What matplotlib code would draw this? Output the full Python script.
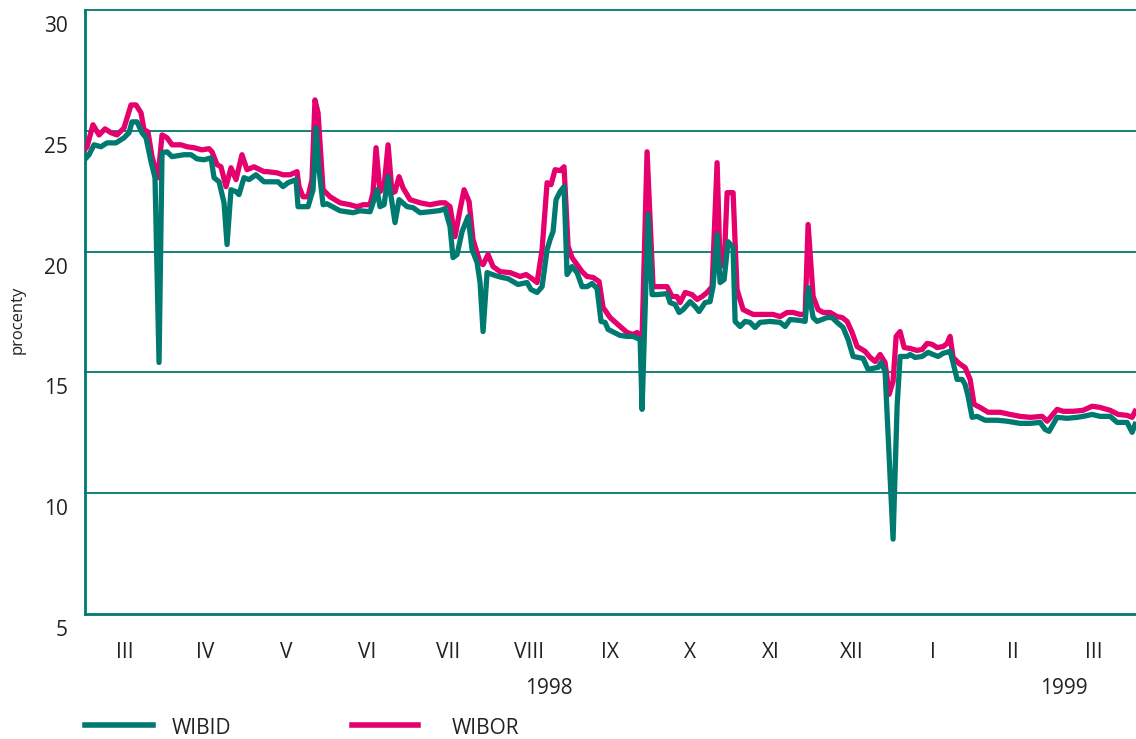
import matplotlib
matplotlib.use('Agg')
import matplotlib.pyplot as plt
import matplotlib.lines as mlines
from matplotlib.transforms import ScaledTranslation, blended_transform_factory

plt.rcParams['font.family'] = ['Open Sans', 'DejaVu Sans']

TEAL = '#007A70'
MAGENTA = '#E5006E'

# x = months since 1 March 1998 (0 = start of March 1998)
wibor_x = [0.0, 0.031, 0.105, 0.180, 0.254, 0.328, 0.402, 0.489, 0.576, 0.638,
           0.700, 0.737, 0.786, 0.836, 0.910, 0.960, 1.022, 1.084, 1.195, 1.269,
           1.356, 1.455, 1.542, 1.579, 1.641, 1.690, 1.752, 1.814, 1.876, 1.950,
           2.012, 2.099, 2.223, 2.260, 2.384, 2.458, 2.545, 2.632, 2.656, 2.706,
           2.768, 2.817, 2.854, 2.892, 2.954, 3.040, 3.164, 3.288, 3.375, 3.449,
           3.536, 3.573, 3.610, 3.659, 3.709, 3.759, 3.808, 3.845, 3.895, 3.944,
           4.031, 4.155, 4.279, 4.402, 4.464, 4.526, 4.588, 4.650, 4.700, 4.762,
           4.811, 4.898, 4.935, 4.997, 5.059, 5.146, 5.270, 5.393, 5.468, 5.542,
           5.604, 5.666, 5.728, 5.777, 5.827, 5.889, 5.938, 5.988, 6.037, 6.099,
           6.161, 6.223, 6.297, 6.372, 6.421, 6.508, 6.632, 6.719, 6.793, 6.842,
           6.904, 6.966, 7.040, 7.102, 7.214, 7.276, 7.337, 7.375, 7.437, 7.523,
           7.585, 7.647, 7.709, 7.771, 7.833, 7.870, 7.920, 7.957, 8.031, 8.080,
           8.155, 8.279, 8.402, 8.526, 8.613, 8.700, 8.774, 8.861, 8.923, 8.960,
           9.022, 9.084, 9.146, 9.232, 9.319, 9.381, 9.443, 9.505, 9.567, 9.666,
           9.728, 9.790, 9.852, 9.913, 9.963, 10.012, 10.050, 10.099, 10.149, 10.223,
           10.310, 10.372, 10.433, 10.495, 10.557, 10.632, 10.681, 10.718, 10.755, 10.830,
           10.904, 10.966, 11.015, 11.090, 11.189, 11.337, 11.461, 11.585, 11.709, 11.858,
           11.920, 12.043, 12.118, 12.241, 12.365, 12.477, 12.576, 12.700, 12.799, 12.910,
           12.972, 13.009]
wibor = [24.21, 24.34, 25.25, 24.83, 25.08, 24.92, 24.83, 25.12, 26.07, 26.07,
         25.74, 25.04, 24.96, 23.93, 23.06, 24.83, 24.71, 24.42, 24.42, 24.34,
         24.30, 24.21, 24.26, 24.13, 23.60, 23.51, 22.69, 23.47, 22.98, 24.01,
         23.39, 23.51, 23.31, 23.31, 23.26, 23.18, 23.18, 23.31, 22.69, 22.27,
         22.27, 22.98, 26.28, 25.74, 22.56, 22.27, 22.02, 21.94, 21.86, 21.94,
         21.94, 22.44, 24.30, 22.48, 22.69, 24.42, 22.44, 22.48, 23.10, 22.64,
         22.15, 22.02, 21.94, 22.02, 22.02, 21.86, 20.62, 21.74, 22.56, 22.07,
         20.50, 19.55, 19.46, 19.88, 19.38, 19.17, 19.13, 18.97, 19.05, 18.88,
         18.72, 20.08, 22.85, 22.77, 23.39, 23.35, 23.51, 20.21, 19.75, 19.46,
         19.17, 18.97, 18.93, 18.76, 17.69, 17.27, 16.90, 16.65, 16.57, 16.65,
         16.45, 24.13, 18.55, 18.55, 18.55, 18.14, 18.14, 17.89, 18.31, 18.22,
         18.02, 18.14, 18.31, 18.55, 23.68, 19.38, 19.46, 22.44, 22.44, 18.43,
         17.60, 17.40, 17.40, 17.40, 17.31, 17.48, 17.48, 17.40, 17.40, 21.12,
         18.14, 17.60, 17.48, 17.48, 17.31, 17.27, 17.11, 16.65, 16.07, 15.87,
         15.62, 15.45, 15.74, 15.41, 14.09, 14.63, 16.49, 16.69, 16.03, 15.99,
         15.91, 15.95, 16.20, 16.16, 16.03, 16.07, 16.20, 16.49, 15.62, 15.37,
         15.20, 14.71, 13.68, 13.55, 13.35, 13.35, 13.26, 13.18, 13.14, 13.18,
         12.98, 13.47, 13.39, 13.39, 13.43, 13.60, 13.55, 13.43, 13.26, 13.22,
         13.14, 13.39]

wibid_x = [0.0, 0.056, 0.118, 0.204, 0.279, 0.390, 0.489, 0.551, 0.588, 0.650,
           0.712, 0.762, 0.824, 0.873, 0.923, 0.960, 1.022, 1.084, 1.232, 1.319,
           1.393, 1.480, 1.567, 1.604, 1.666, 1.728, 1.765, 1.814, 1.876, 1.913,
           1.975, 2.037, 2.124, 2.223, 2.297, 2.396, 2.458, 2.520, 2.619, 2.644,
           2.768, 2.830, 2.867, 2.904, 2.954, 3.003, 3.164, 3.325, 3.412, 3.536,
           3.573, 3.622, 3.659, 3.709, 3.759, 3.808, 3.845, 3.895, 3.994, 4.068,
           4.155, 4.279, 4.402, 4.464, 4.526, 4.563, 4.613, 4.675, 4.750, 4.799,
           4.861, 4.898, 4.935, 4.985, 5.084, 5.170, 5.245, 5.368, 5.480, 5.529,
           5.604, 5.666, 5.728, 5.765, 5.802, 5.839, 5.889, 5.938, 5.975, 6.037,
           6.099, 6.161, 6.223, 6.285, 6.347, 6.396, 6.446, 6.483, 6.632, 6.719,
           6.793, 6.880, 6.904, 6.978, 7.028, 7.090, 7.214, 7.251, 7.313, 7.363,
           7.412, 7.499, 7.560, 7.610, 7.684, 7.746, 7.783, 7.833, 7.870, 7.920,
           7.969, 8.031, 8.056, 8.118, 8.180, 8.241, 8.303, 8.365, 8.489, 8.613,
           8.675, 8.737, 8.861, 8.923, 8.960, 9.022, 9.071, 9.195, 9.257, 9.319,
           9.393, 9.455, 9.517, 9.579, 9.641, 9.703, 9.765, 9.827, 9.864, 9.913,
           10.012, 10.062, 10.099, 10.186, 10.223, 10.285, 10.372, 10.446, 10.508, 10.570,
           10.632, 10.718, 10.755, 10.805, 10.867, 10.904, 10.941, 10.991, 11.053, 11.152,
           11.300, 11.424, 11.585, 11.709, 11.833, 11.895, 11.944, 12.043, 12.167, 12.291,
           12.365, 12.477, 12.576, 12.700, 12.787, 12.910, 12.972, 13.009]
wibid = [23.80, 24.01, 24.42, 24.34, 24.50, 24.50, 24.71, 24.92, 25.37, 25.37,
         24.92, 24.71, 23.72, 23.06, 15.41, 24.09, 24.13, 23.93, 24.01, 24.01,
         23.84, 23.80, 23.88, 23.06, 22.89, 22.02, 20.29, 22.56, 22.48, 22.36,
         23.06, 22.98, 23.18, 22.89, 22.89, 22.89, 22.69, 22.85, 22.98, 21.86,
         21.86, 22.56, 25.12, 23.39, 21.94, 21.98, 21.69, 21.61, 21.69, 21.65,
         22.02, 22.56, 21.86, 21.94, 23.10, 22.02, 21.20, 22.15, 21.86, 21.82,
         21.61, 21.65, 21.70, 21.78, 21.03, 19.75, 19.88, 20.83, 21.45, 20.08,
         19.55, 18.72, 16.69, 19.13, 19.01, 18.93, 18.88, 18.64, 18.72, 18.43,
         18.31, 18.55, 20.08, 20.50, 20.83, 22.15, 22.48, 22.69, 19.05, 19.38,
         19.13, 18.55, 18.55, 18.68, 18.47, 17.11, 17.07, 16.78, 16.53, 16.49,
         16.49, 16.36, 13.47, 21.53, 18.22, 18.22, 18.26, 17.89, 17.81, 17.48,
         17.60, 17.93, 17.73, 17.52, 17.89, 17.93, 18.55, 20.70, 18.72, 18.84,
         20.41, 20.17, 17.11, 16.90, 17.11, 17.07, 16.86, 17.07, 17.11, 17.07,
         16.90, 17.19, 17.15, 17.11, 18.51, 17.27, 17.11, 17.27, 17.27, 17.07,
         16.86, 16.36, 15.66, 15.62, 15.58, 15.12, 15.17, 15.21, 15.41, 15.04,
         8.10, 13.60, 15.66, 15.66, 15.74, 15.62, 15.66, 15.83, 15.74, 15.66,
         15.79, 15.87, 15.41, 14.71, 14.71, 14.50, 14.01, 13.14, 13.18, 13.02,
         13.02, 12.98, 12.89, 12.89, 12.93, 12.64, 12.56, 13.14, 13.10, 13.14,
         13.18, 13.26, 13.18, 13.18, 12.93, 12.93, 12.52, 12.85]

month_labels = ['III', 'IV', 'V', 'VI', 'VII', 'VIII', 'IX', 'X', 'XI', 'XII', 'I', 'II', 'III']
year_labels = ['1998', '1999']
year_pos = [5.75, 12.13]
y_ticks = [5, 10, 15, 20, 25, 30]

fig = plt.figure(figsize=(11.36, 7.39), dpi=100)
ax = fig.add_axes([84.5 / 1136, 1 - 614 / 739, (1136 - 84.5) / 1136, 604 / 739])

ax.plot(wibor_x, wibor, color=MAGENTA, lw=3.8, solid_joinstyle='round', zorder=3)
ax.plot(wibid_x, wibid, color=TEAL, lw=3.8, solid_joinstyle='round', zorder=4)

ax.set_xlim(0, 13.02)
ax.set_ylim(5, 30)

for v in y_ticks[1:]:
    ax.axhline(v, color=TEAL, lw=1.3, zorder=1, clip_on=False)

for s in ['top', 'right']:
    ax.spines[s].set_visible(False)
for s in ['left', 'bottom']:
    ax.spines[s].set_color(TEAL)
    ax.spines[s].set_linewidth(2)

ax.set_yticks(y_ticks)
ax.set_yticklabels([str(v) for v in y_ticks], fontsize=15, color='#222222')
ax.tick_params(axis='y', length=0, pad=12)
offset = ScaledTranslation(0, -14 / 100, fig.dpi_scale_trans)
for lab in ax.get_yticklabels():
    lab.set_transform(lab.get_transform() + offset)

ax.set_xticks([k + 0.5 for k in range(len(month_labels))])
ax.set_xticklabels(month_labels, fontsize=15, color='#222222')
ax.tick_params(axis='x', length=0, pad=20)

trans = blended_transform_factory(ax.transData, fig.transFigure)
for pos, lab in zip(year_pos, year_labels):
    ax.text(pos, 1 - 688 / 739, lab, transform=trans, ha='center', va='center',
            fontsize=15, color='#222222')

fig.text(18 / 1136, 1 - 320 / 739, 'procenty', rotation=90, ha='center', va='center',
         fontsize=12, color='#222222')

# legend
ly = 1 - 725 / 739
fig.add_artist(mlines.Line2D([85 / 1136, 153 / 1136], [ly, ly], color=TEAL, lw=4))
fig.text(172 / 1136, 1 - 728 / 739, 'WIBID', ha='left', va='center', fontsize=15, color='#222222')
fig.add_artist(mlines.Line2D([352 / 1136, 418 / 1136], [ly, ly], color=MAGENTA, lw=4))
fig.text(452 / 1136, 1 - 728 / 739, 'WIBOR', ha='left', va='center', fontsize=15, color='#222222')

fig.savefig('out.png', dpi=100)
